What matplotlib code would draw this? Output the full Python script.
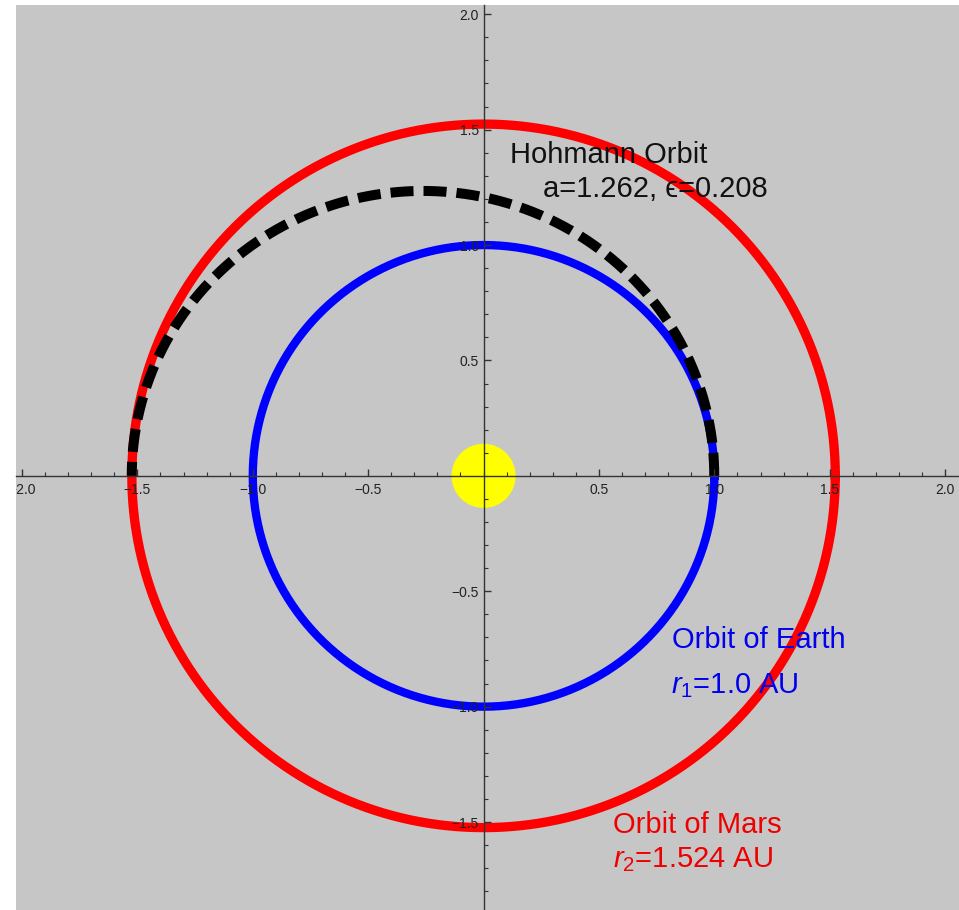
import numpy as np
import matplotlib
matplotlib.use("Agg")
import matplotlib.pyplot as plt
from matplotlib.ticker import MultipleLocator, FixedLocator

plt.rcParams['font.family'] = ['Liberation Sans', 'DejaVu Sans']
plt.rcParams['mathtext.fontset'] = 'custom'
plt.rcParams['mathtext.rm'] = 'Liberation Sans'
plt.rcParams['mathtext.it'] = 'Liberation Sans:italic'

# Data
r_earth = 1.0
r_mars = 1.524
a_hoh = 1.262
e_hoh = 0.208
sun_radius = 0.136
x_ticks = [-2.0, -1.5, -1.0, -0.5, 0.5, 1.0, 1.5, 2.0]
y_ticks = [-1.5, -1.0, -0.5, 0.5, 1.0, 1.5, 2.0]

fig = plt.figure(figsize=(9.59, 9.10), dpi=100)
ax = fig.add_axes([16/959, 0, 943/959, 905/910])
ax.set_facecolor('#c6c6c6')

t = np.linspace(0, 2*np.pi, 721)
ax.plot(r_mars*np.cos(t), r_mars*np.sin(t), color='#ff0000', lw=6.7, zorder=2)
ax.plot(r_earth*np.cos(t), r_earth*np.sin(t), color='#0000ff', lw=6.0, zorder=2)

th = np.linspace(0, np.pi, 400)
r = a_hoh*(1-e_hoh**2)/(1+e_hoh*np.cos(th))
ax.plot(r*np.cos(th), r*np.sin(th), color='black', lw=7.2, dashes=(2.3, 1.0),
        dash_capstyle='butt', zorder=3)

sun = plt.Circle((0, 0), sun_radius, color='#ffff00', zorder=4)
ax.add_patch(sun)

fs = 21
ax.text(0.115, 1.355, 'Hohmann Orbit', fontsize=fs, color='#111111', zorder=7)
ax.text(0.258, 1.209, f'a={a_hoh}, \u03f5={e_hoh}', fontsize=fs, color='#111111', zorder=7,
        family=['Liberation Sans', 'DejaVu Sans'])
ax.text(0.815, -0.745, 'Orbit of Earth', fontsize=fs, color='#0000ee', zorder=7)
ax.text(0.812, -0.940, r'$r_1$=1.0 AU', fontsize=fs, color='#0000ee', zorder=7)
ax.text(0.561, -1.547, 'Orbit of Mars', fontsize=fs, color='#ee0000', zorder=7)
ax.text(0.561, -1.694, r'$r_2$=1.524 AU', fontsize=fs, color='#ee0000', zorder=7)

ax.set_xlim(-2.026, 2.06)
ax.set_ylim(-1.881, 2.04)

for s in ['top', 'right']:
    ax.spines[s].set_visible(False)
for s in ['left', 'bottom']:
    ax.spines[s].set_position(('data', 0))
    ax.spines[s].set_color('#333333')
    ax.spines[s].set_linewidth(1.0)
    ax.spines[s].set_zorder(6)

ax.xaxis.set_major_locator(FixedLocator(x_ticks))
ax.yaxis.set_major_locator(FixedLocator(y_ticks))
ax.xaxis.set_minor_locator(MultipleLocator(0.1))
ax.yaxis.set_minor_locator(MultipleLocator(0.1))
ax.set_xticklabels([f'{v:.1f}'.replace('-', '\u2212') for v in x_ticks])
ax.set_yticklabels([f'{v:.1f}'.replace('-', '\u2212') for v in y_ticks])
ax.tick_params(which='major', direction='in', length=5, width=1.0, color='#333333',
               labelsize=10, labelcolor='#222222')
ax.tick_params(axis='x', which='major', pad=5)
ax.tick_params(axis='y', which='major', pad=3.5)
ax.tick_params(which='minor', direction='in', length=3, width=0.8, color='#333333')
ax.xaxis.set_zorder(6)
ax.yaxis.set_zorder(6)
for lab in ax.get_xticklabels() + ax.get_yticklabels():
    lab.set_clip_path(ax.patch)

fig.savefig('out.png', dpi=100)
